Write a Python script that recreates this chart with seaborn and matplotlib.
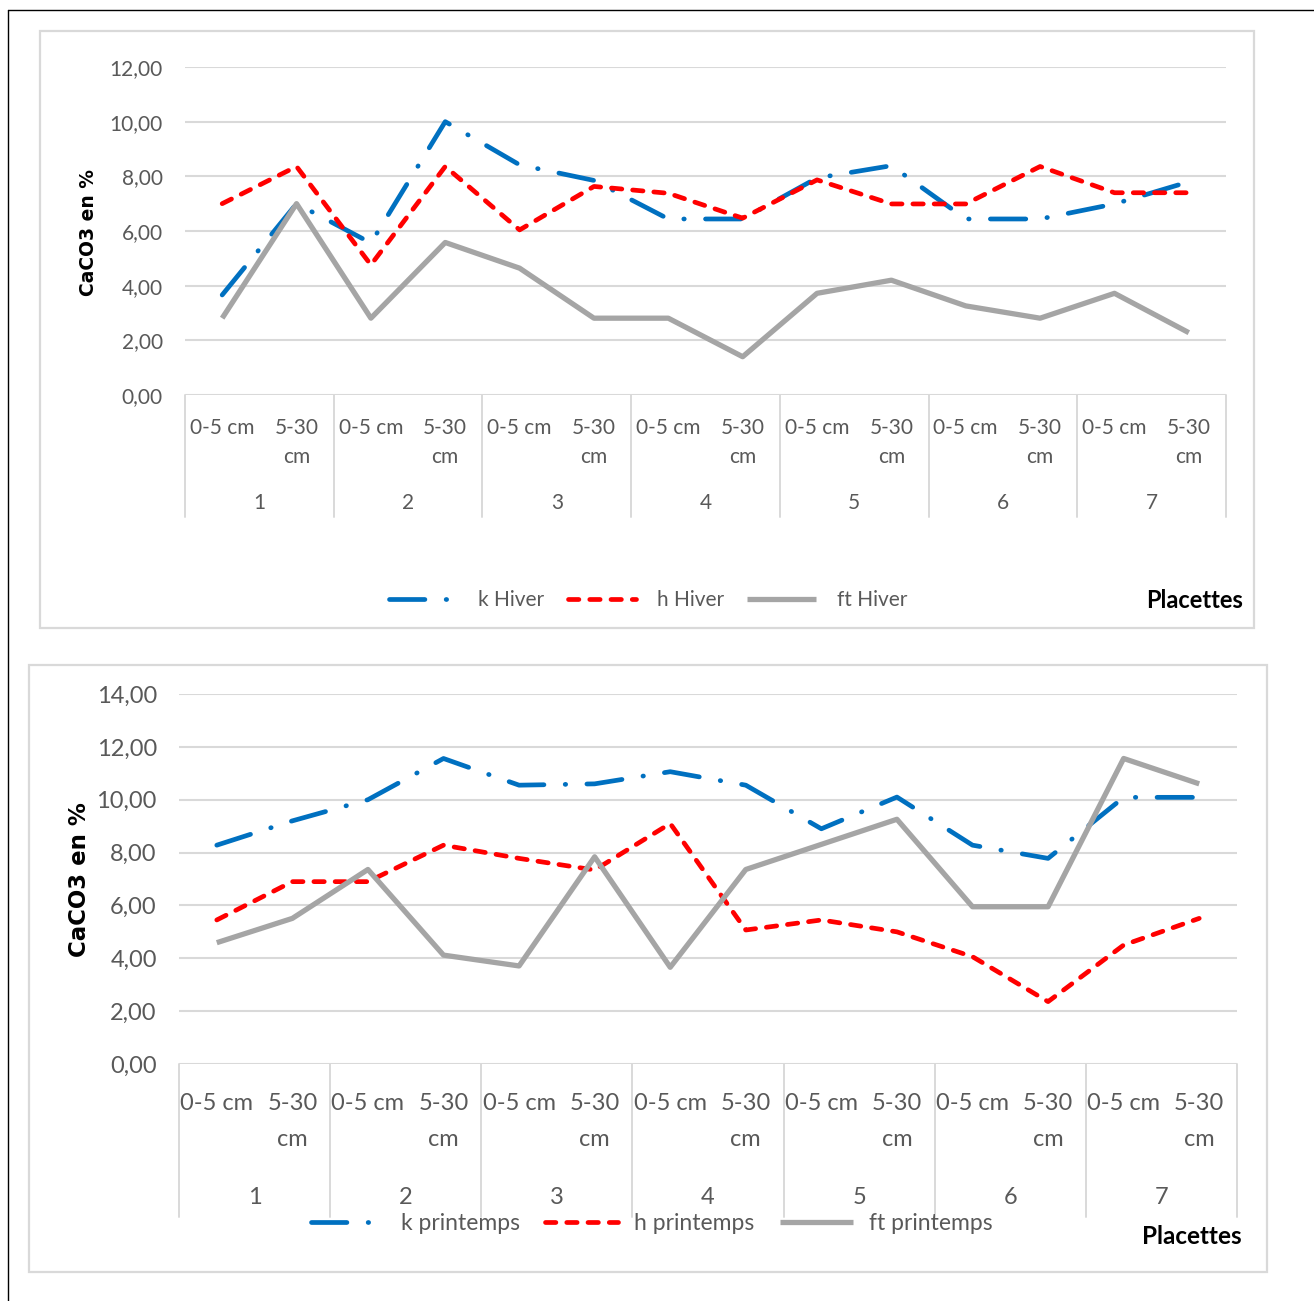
import matplotlib
matplotlib.use("Agg")
import matplotlib.pyplot as plt
from matplotlib import font_manager
from matplotlib.patches import Rectangle
from matplotlib.lines import Line2D
import seaborn as sns
import numpy as np

# ---- data ---------------------------------------------------------------
placettes = ["1", "2", "3", "4", "5", "6", "7"]
profondeurs = ["0-5 cm", "5-30 cm"]

k_hiver = [3.66, 7.00, 5.56, 10.00, 8.42, 7.85, 6.44, 6.44, 7.94, 8.39, 6.44, 6.44, 6.99, 7.80]
h_hiver = [7.00, 8.36, 4.76, 8.36, 6.04, 7.63, 7.38, 6.47, 7.87, 6.99, 6.99, 8.36, 7.40, 7.40]
ft_hiver = [2.81, 7.00, 2.81, 5.58, 4.64, 2.81, 2.81, 1.40, 3.72, 4.20, 3.26, 2.81, 3.72, 2.28]

k_printemps = [8.28, 9.20, 10.00, 11.56, 10.55, 10.60, 11.06, 10.55, 8.90, 10.10, 8.28, 7.78, 10.09, 10.09]
h_printemps = [5.45, 6.90, 6.90, 8.28, 7.78, 7.34, 9.10, 5.07, 5.45, 5.00, 4.06, 2.36, 4.50, 5.51]
ft_printemps = [4.59, 5.51, 7.36, 4.12, 3.71, 7.84, 3.66, 7.36, 8.31, 9.26, 5.95, 5.95, 11.56, 10.60]

yticks_hiver = [0, 2, 4, 6, 8, 10, 12]
yticks_printemps = [0, 2, 4, 6, 8, 10, 12, 14]

# ---- style --------------------------------------------------------------
sns.set_theme(style="white")
avail = {f.name for f in font_manager.fontManager.ttflist}
base_font = "Lato" if "Lato" in avail else "DejaVu Sans"
plt.rcParams["font.family"] = [base_font, "DejaVu Sans"]

W, H = 1314, 1301
fig = plt.figure(figsize=(W / 100, H / 100), dpi=100)

BLUE = "#0070c0"
RED = "#ff0000"
GREY = "#a5a5a5"
TXT = "#595959"
GRID = "#d9d9d9"


def fx(px):
    return px / W


def fy(py):
    return 1 - py / H


# outer frame of the page
fig.add_artist(Line2D([fx(8), fx(8)], [fy(10), 0], color="black", lw=1.0))
fig.add_artist(Line2D([fx(8), 1], [fy(10), fy(10)], color="black", lw=1.0))

# chart-area boxes
for (x0, y0, x1, y1) in [(40, 31, 1254, 628), (29, 665, 1267, 1272)]:
    fig.add_artist(Rectangle((fx(x0), fy(y1)), fx(x1) - fx(x0), fy(y0) - fy(y1),
                             fill=False, edgecolor=GRID, lw=1.6))

styles = {
    "k": dict(color=BLUE, lw=3.4, linestyle=(0, (7.5, 4.5, 0.1, 4.5)), dash_capstyle="round"),
    "h": dict(color=RED, lw=3.4, linestyle=(0, (2.2, 2.3)), dash_capstyle="round"),
    "ft": dict(color=GREY, lw=3.8, solid_capstyle="butt"),
}


def draw_panel(rect, series, labels, yticks, tick_size, offsets, sep_frac,
               leg_xy, plac_xy, ylab_xy, ylab_size, plac_size, leg_size,
               leg_pad, leg_space, leg_hlen):
    ax = fig.add_axes(rect)
    pos = np.arange(len(placettes) * len(profondeurs))
    for key, vals, lab in zip(["k", "h", "ft"], series, labels):
        sns.lineplot(x=pos, y=vals, ax=ax, label=lab, **styles[key])
    ax.set_xlim(-0.5, len(pos) - 0.5)
    ax.set_ylim(yticks[0], yticks[-1])
    ax.set_yticks(yticks)
    ax.set_yticklabels([f"{v:.2f}".replace(".", ",") for v in yticks],
                       fontsize=tick_size, color=TXT)
    ax.tick_params(axis="y", length=0, pad=16)
    ax.set_xticks([])
    for s in ax.spines.values():
        s.set_visible(False)
    ax.yaxis.grid(True, color=GRID, lw=1.5)
    ax.set_axisbelow(True)
    ax.axhline(yticks[0], color=GRID, lw=2.0, zorder=0)
    ax.get_legend().remove()

    # two-level category axis
    d1, d2, d3 = offsets
    for i in pos:
        depth = profondeurs[i % 2]
        parts = [depth] if i % 2 == 0 else depth.split(" ")
        for j, part in enumerate(parts):
            ax.annotate(part, xy=(i, 0), xycoords=("data", "axes fraction"),
                        xytext=(0, -(d1 if j == 0 else d2) * 0.72), textcoords="offset points",
                        ha="center", va="center", fontsize=tick_size, color=TXT,
                        annotation_clip=False)
    for g, name in enumerate(placettes):
        ax.annotate(name, xy=(2 * g + 0.5, 0), xycoords=("data", "axes fraction"),
                    xytext=(0, -d3 * 0.72), textcoords="offset points",
                    ha="center", va="center", fontsize=tick_size, color=TXT,
                    annotation_clip=False)
    for b in np.arange(-0.5, len(pos), 2):
        ax.plot([b, b], [0, -sep_frac], color=GRID, lw=1.4, clip_on=False,
                transform=ax.get_xaxis_transform())

    ax.set_ylabel("")
    fig.text(fx(ylab_xy[0]), fy(ylab_xy[1]), "CaCO3 en %", rotation=90, ha="center", va="center",
             fontsize=ylab_size, fontweight="bold", family=["DejaVu Sans"], color="black")
    handles, labs = ax.get_legend_handles_labels()
    fig.legend(handles, labs, loc="center", bbox_to_anchor=(fx(leg_xy[0]), fy(leg_xy[1])),
               ncol=3, frameon=False, handlelength=leg_hlen, handletextpad=leg_pad,
               columnspacing=leg_space, prop=dict(size=leg_size), labelcolor=TXT)
    fig.text(fx(plac_xy[0]), fy(plac_xy[1]), "Placettes", ha="center", va="center",
             fontsize=plac_size, fontweight="bold", color="black")
    return ax


# winter panel
draw_panel([fx(185), fy(395), fx(1226) - fx(185), fy(67) - fy(395)],
           [k_hiver, h_hiver, ft_hiver], ["k Hiver", "h Hiver", "ft Hiver"],
           yticks_hiver, 15, (33, 62, 108), 122 / 328,
           (648, 600), (1195, 600), (88, 232), 13.5, 17, 15, 1.0, 1.1, 3.3)

# spring panel
draw_panel([fx(179), fy(1064), fx(1237) - fx(179), fy(694) - fy(1064)],
           [k_printemps, h_printemps, ft_printemps], ["k printemps", "h printemps", "ft printemps"],
           yticks_printemps, 17, (40, 76, 134), 153 / 370,
           (652, 1224), (1192, 1236), (80, 880), 16.5, 17.5, 16.5, 0.7, 1.1, 3.2)

fig.savefig("out.png", dpi=100)
